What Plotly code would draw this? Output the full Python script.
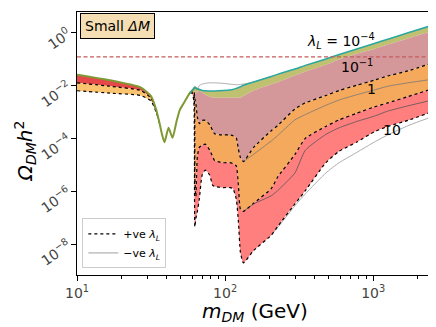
import plotly.graph_objects as go

# DM mass grid (GeV)
mass = [10, 16.7, 26.9, 31.6, 34.2, 36, 37.5, 39, 41.5, 44.2,
        47, 49.4, 52.7, 55.3, 58, 60, 61.5, 62.5, 63.5, 65,
        67, 70, 73.5, 78.7, 82.5, 85, 97, 108, 113, 119,
        123, 127, 133, 156, 205, 226, 296, 348, 479, 589,
        776, 1018, 1255, 1720, 2560]

# log10(Omega h^2)
top = [-1.59, -1.80, -2.07, -2.40, -2.90, -3.40, -3.85, -4.15, -3.60, -3.98,
       -3.36, -2.93, -2.66, -2.46, -2.27, -2.19, -2.12, -2.07, -2.10, -2.13,
       -2.15, -2.19, -2.20, -2.21, -2.21, -2.21, -2.19, -2.17, -2.15, -2.11,
       -2.08, -2.05, -1.99, -1.87, -1.66, -1.58, -1.38, -1.24, -1.00, -0.83,
       -0.62, -0.41, -0.25, -0.01, 0.29]

# curves above the Higgs pole, from mass[14] onwards
rose_top = [-2.27, -2.19, -2.15, -2.30, -2.30, -2.25, -2.20, -2.27, -2.35, -2.42,
            -2.46, -2.46, -2.46, -2.46, -2.46, -2.46, -2.46, -2.46, -2.40, -2.19,
            -1.95, -1.88, -1.62, -1.48, -1.22, -1.02, -0.80, -0.62, -0.45, -0.22,
            0.08]
pos_01 = [-2.27, -2.22, -2.20, -2.50, -2.70, -3.20, -3.44, -3.32, -3.32, -3.48,
          -3.71, -3.83, -3.87, -3.87, -3.90, -3.98, -4.41, -4.73, -4.88, -4.34,
          -3.71, -3.52, -2.89, -2.66, -2.38, -2.19, -1.99, -1.80, -1.64, -1.45,
          -1.13]
pos_1 = [-2.27, -2.25, -2.30, -5.50, -6.20, -4.69, -4.34, -4.26, -4.22, -4.45,
         -4.69, -4.84, -4.92, -4.92, -4.96, -5.04, -5.78, -6.68, -6.76, -6.45,
         -5.90, -5.47, -4.61, -4.00, -3.55, -3.30, -3.05, -2.81, -2.66, -2.42,
         -2.11]
pos_10 = [-2.27, -2.30, -2.60, -7.34, -7.03, -6.76, -6.29, -5.39, -5.20, -5.39,
          -5.78, -5.82, -5.86, -5.86, -5.90, -6.29, -7.15, -8.32, -8.71, -8.24,
          -7.66, -7.34, -6.48, -5.98, -4.92, -4.49, -4.14, -3.75, -3.55, -3.32,
          -2.97]

# negative lambda_L lines
neg_small = [-2.13, -2.00, -1.95, -1.92, -1.90, -1.90, -1.90, -1.92, -1.95, -1.96,
             -1.97, -1.97, -1.96, -1.95, -1.87, -1.66]          # mass[19:35]
neg_1 = [-4.88, -4.60, -4.10, -3.90, -3.30, -3.10, -2.75, -2.55, -2.35, -2.17,
         -2.03, -1.90, -1.76]                                  # mass[32:]
neg_1b = [-6.76, -6.48, -6.17, -5.98, -5.31, -4.45, -3.85, -3.60, -3.36, -3.16,
          -2.97, -2.77, -2.54]                                 # mass[32:]
neg_10 = [-7.66, -7.38, -6.55, -6.10, -5.31, -4.92, -4.53, -4.14, -3.87, -3.52,
          -3.16]                                               # mass[34:]

# low mass bands, mass[:6]
low_mid = [-1.90, -2.03, -2.19, -2.48, -2.95, -3.40]
low_bot = [-2.20, -2.29, -2.38, -2.58, -3.00, -3.40]

x_ticks = [10, 100, 1000]
x_ticktext = ["10<sup>1</sup>", "10<sup>2</sup>", "10<sup>3</sup>"]
y_ticks = [1, 1e-2, 1e-4, 1e-6, 1e-8]
y_ticktext = ["10<sup>0</sup>", "10<sup>\u22122</sup>", "10<sup>\u22124</sup>",
              "10<sup>\u22126</sup>", "10<sup>\u22128</sup>"]
planck = 0.12


def pw(a):
    return [10 ** v for v in a]


fig = go.Figure()
SMOOTH = 0.5


def band(x, upper, lower, color):
    fig.add_trace(go.Scatter(x=x, y=pw(lower), mode='lines',
                             line=dict(width=0, shape='spline', smoothing=SMOOTH),
                             showlegend=False, hoverinfo='skip'))
    fig.add_trace(go.Scatter(x=x, y=pw(upper), mode='lines',
                             line=dict(width=0, shape='spline', smoothing=SMOOTH),
                             fill='tonexty', fillcolor=color,
                             showlegend=False, hoverinfo='skip'))


def line(x, y, color, width, dash='solid'):
    fig.add_trace(go.Scatter(x=x, y=pw(y), mode='lines',
                             line=dict(color=color, width=width, dash=dash,
                                       shape='spline', smoothing=SMOOTH),
                             showlegend=False, hoverinfo='skip'))


x_hi = mass[14:]
band(x_hi, top[14:], rose_top, '#bfc070')
band(x_hi, rose_top, pos_01, '#d4979a')
band(x_hi, pos_01, pos_1, '#f5a95c')
band(x_hi, pos_1, pos_10, '#ff7e7e')
band(mass[:6], top[:6], low_mid, '#e54848')
band(mass[:6], low_mid, low_bot, '#fdc470')

line(mass[19:35], neg_small, '#999999', 0.8)
line(mass[32:], neg_1, '#777777', 0.8)
line(mass[32:], neg_1b, '#555555', 0.8)
line(mass[34:], neg_10, '#999999', 0.8)

line(x_hi, pos_01, 'black', 1.2, 'dot')
line(x_hi, pos_1, 'black', 1.2, 'dot')
line(x_hi, pos_10, 'black', 1.2, 'dot')
line(mass[:6], low_mid, 'black', 1.2, 'dot')
line(mass[:6], low_bot, 'black', 1.2, 'dot')

line(mass[:21], top[:21], '#7f9a35', 2)
line(x_hi, top[14:], '#2aa7a0', 1.5)

# legend entries
fig.add_trace(go.Scatter(x=[None], y=[None], mode='lines',
                         line=dict(color='black', width=1.2, dash='dot'),
                         name='+ve <i>λ</i><sub><i>L</i></sub>'))
fig.add_trace(go.Scatter(x=[None], y=[None], mode='lines',
                         line=dict(color='#888888', width=0.8),
                         name='\u2212ve <i>λ</i><sub><i>L</i></sub>'))

fig.add_hline(y=planck, line=dict(color='#c45c5c', width=1.2, dash='4px,2.5px'))

lab = dict(size=14, color='black', family='DejaVu Sans')
fig.add_annotation(x=2.785, y=-0.31, text='<i>λ</i><sub><i>L</i></sub> = 10<sup>\u22124</sup>',
                   showarrow=False, font=lab)
fig.add_annotation(x=2.889, y=-1.25, text='10<sup>\u22121</sup>', showarrow=False, font=lab)
fig.add_annotation(x=2.986, y=-2.15, text='1', showarrow=False, font=lab)
fig.add_annotation(x=3.13, y=-3.7, text='10', showarrow=False, font=lab)
fig.add_annotation(x=0.008, y=0.995, xref='paper', yref='paper', xanchor='left', yanchor='top',
                   text='Small <i>ΔM</i>', showarrow=False,
                   font=dict(size=14, color='black', family='DejaVu Sans'),
                   bgcolor='#f5deb3', bordercolor='black', borderwidth=1, borderpad=4)

# axis titles
title_font = dict(size=20, color='black', family='DejaVu Sans')
fig.add_annotation(x=0.5, y=-0.14, xref='paper', yref='paper', yanchor='middle',
                   text='<i>m</i><sub><i>DM</i></sub> (GeV)', showarrow=False, font=title_font)
fig.add_annotation(x=-0.146, y=0.47, xref='paper', yref='paper', xanchor='center',
                   text='<i>Ω</i><sub><i>DM</i></sub><i>h</i><sup>2</sup>', textangle=-90,
                   showarrow=False, font=title_font)

axis_common = dict(showline=True, linecolor='black', linewidth=1, mirror=True,
                   ticks='outside', ticklen=5, tickcolor='black', showgrid=False,
                   zeroline=False, tickfont=dict(size=14, color='#444444', family='DejaVu Sans'))

# page body adds an 8px margin, so the figure is 8px smaller on each axis
fig.update_layout(
    width=428, height=319,
    margin=dict(l=69, r=3, t=4, b=52),
    paper_bgcolor='white', plot_bgcolor='white',
    font=dict(family='DejaVu Sans'),
    xaxis=dict(type='log', range=[1, 3.404], tickvals=x_ticks, ticktext=x_ticktext,
               minor=dict(ticks='outside', ticklen=2.5, tickcolor='black',
                          tickvals=[20, 30, 40, 50, 60, 70, 80, 90, 200, 300, 400, 500,
                                    600, 700, 800, 900, 2000]),
               **axis_common),
    yaxis=dict(type='log', range=[-9.167, 0.778], tickvals=y_ticks, ticktext=y_ticktext,
               tickangle=-35, **axis_common),
    legend=dict(x=0.015, y=0.025, xanchor='left', yanchor='bottom',
                bgcolor='white', bordercolor='#cccccc', borderwidth=1,
                font=dict(size=11, color='black'), tracegroupgap=0,
                traceorder='normal'),
    showlegend=True,
)

fig.write_html("out.html")
